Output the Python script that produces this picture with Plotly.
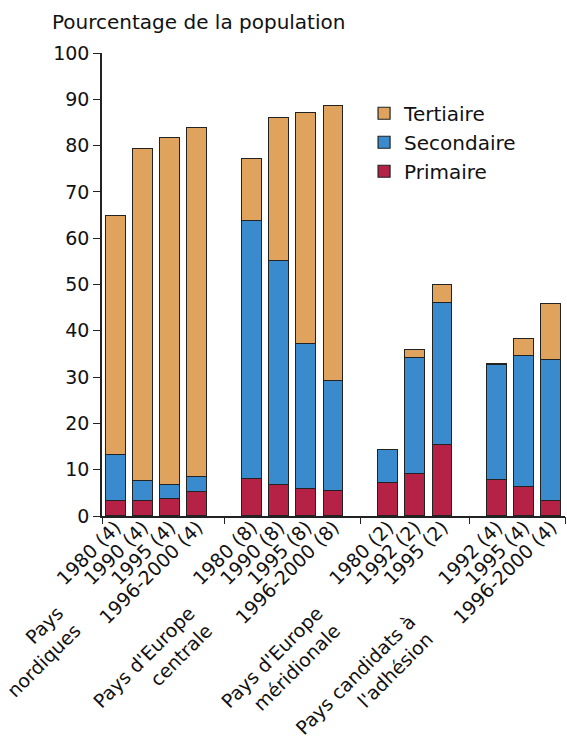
import plotly.graph_objects as go

# ---- data ----
groups = ["Pays<br>nordiques", "Pays d'Europe<br>centrale",
          "Pays d'Europe<br>méridionale", "Pays candidats à<br>l'adhésion"]
group_sizes = [4, 4, 3, 3]
bar_labels = ["1980 (4)", "1990 (4)", "1995 (4)", "1996-2000 (4)",
              "1980 (8)", "1990 (8)", "1995 (8)", "1996-2000 (8)",
              "1980 (2)", "1992 (2)", "1995 (2)",
              "1992 (4)", "1995 (4)", "1996-2000 (4)"]
primaire = [3.2, 3.2, 3.7, 5.2,
            7.9, 6.8, 5.8, 5.3,
            7.1, 9.0, 15.4,
            7.8, 6.2, 3.3]
secondaire_top = [13.2, 7.6, 6.8, 8.4,
                  63.8, 55.1, 37.1, 29.2,
                  14.3, 34.2, 46.1,
                  32.6, 34.6, 33.7]
total = [64.7, 79.2, 81.6, 83.7,
         77.1, 85.9, 87.0, 88.6,
         14.3, 35.8, 49.9,
         32.8, 38.2, 45.7]
secondaire = [round(s - p, 2) for s, p in zip(secondaire_top, primaire)]
tertiaire = [round(t - s, 2) for t, s in zip(total, secondaire_top)]

colors = {"Primaire": "#B52246", "Secondaire": "#3A8BCD", "Tertiaire": "#E0A35E"}

# positions: one slot per bar, one empty slot between groups
xpos, boundaries, centers = [], [0], []
slot = 0
for gi, n in enumerate(group_sizes):
    start = slot
    for _ in range(n):
        xpos.append(slot + 0.5)
        slot += 1
    centers.append((start + slot) / 2)
    if gi < len(group_sizes) - 1:
        boundaries.append(slot + 0.5)
        slot += 1
xmax = slot

FONT = "DejaVu Sans, Verdana, sans-serif"
FS = 19
fig = go.Figure()
for name, vals in [("Primaire", primaire), ("Secondaire", secondaire), ("Tertiaire", tertiaire)]:
    fig.add_trace(go.Bar(x=xpos, y=vals, name=name, width=0.73,
                         marker=dict(color=colors[name], line=dict(color="#222222", width=1.2))))

# invisible trace for boundary ticks axis
fig.add_trace(go.Scatter(x=[0, xmax], y=[0, 0], xaxis="x2", mode="markers",
                         marker=dict(opacity=0), showlegend=False, hoverinfo="skip"))

fig.update_layout(
    barmode="stack",
    width=567, height=738,
    margin=dict(l=102, r=2, t=53, b=222),
    plot_bgcolor="white", paper_bgcolor="white",
    font=dict(family=FONT, size=FS, color="#111111"),
    bargap=0,
    xaxis=dict(range=[0, xmax], tickvals=xpos, ticktext=bar_labels, tickangle=-45,
               ticks="", showgrid=False, zeroline=False, showline=True, automargin=False,
               linecolor="#222222", linewidth=1.5, tickfont=dict(size=FS),
               ticklabelstandoff=-9),
    xaxis2=dict(range=[0, xmax], overlaying="x", side="bottom", tickvals=boundaries + [xmax],
                showticklabels=False, ticks="outside", ticklen=7, tickcolor="#222222",
                tickwidth=1.2, showgrid=False, zeroline=False, showline=False, automargin=False),
    yaxis=dict(range=[0, 100], dtick=10, ticks="outside", ticklen=7, tickcolor="#222222",
               showgrid=False, zeroline=False, showline=True, linecolor="#222222",
               linewidth=1.5, tickfont=dict(size=FS), automargin=False),
    legend=dict(x=0.566, y=0.912, xanchor="left", yanchor="top", traceorder="reversed",
                font=dict(size=20), bgcolor="rgba(0,0,0,0)"),
)

fig.add_annotation(text="Pourcentage de la population", xref="paper", yref="paper",
                   x=-0.112, y=1.066, xanchor="left", yanchor="middle", showarrow=False,
                   font=dict(size=20))

# label anchor (top-right corner of rotated text block), in pixel offsets from plot area
label_px = [(88, 599), (220, 599), (348, 599), (440, 607)]
PLOT_L, PLOT_B, PLOT_W, PLOT_H = 102, 516, 463, 463
for g, (px, py) in zip(groups, label_px):
    fig.add_annotation(text=g, x=(px - PLOT_L) / PLOT_W, xref="paper",
                       y=(PLOT_B - py) / PLOT_H, yref="paper",
                       xanchor="right", yanchor="top", textangle=-45, align="right",
                       showarrow=False, font=dict(size=FS))

fig.write_html("out.html", config={"displayModeBar": False},
               post_script="document.body.style.margin='0';document.body.style.padding='0';")
